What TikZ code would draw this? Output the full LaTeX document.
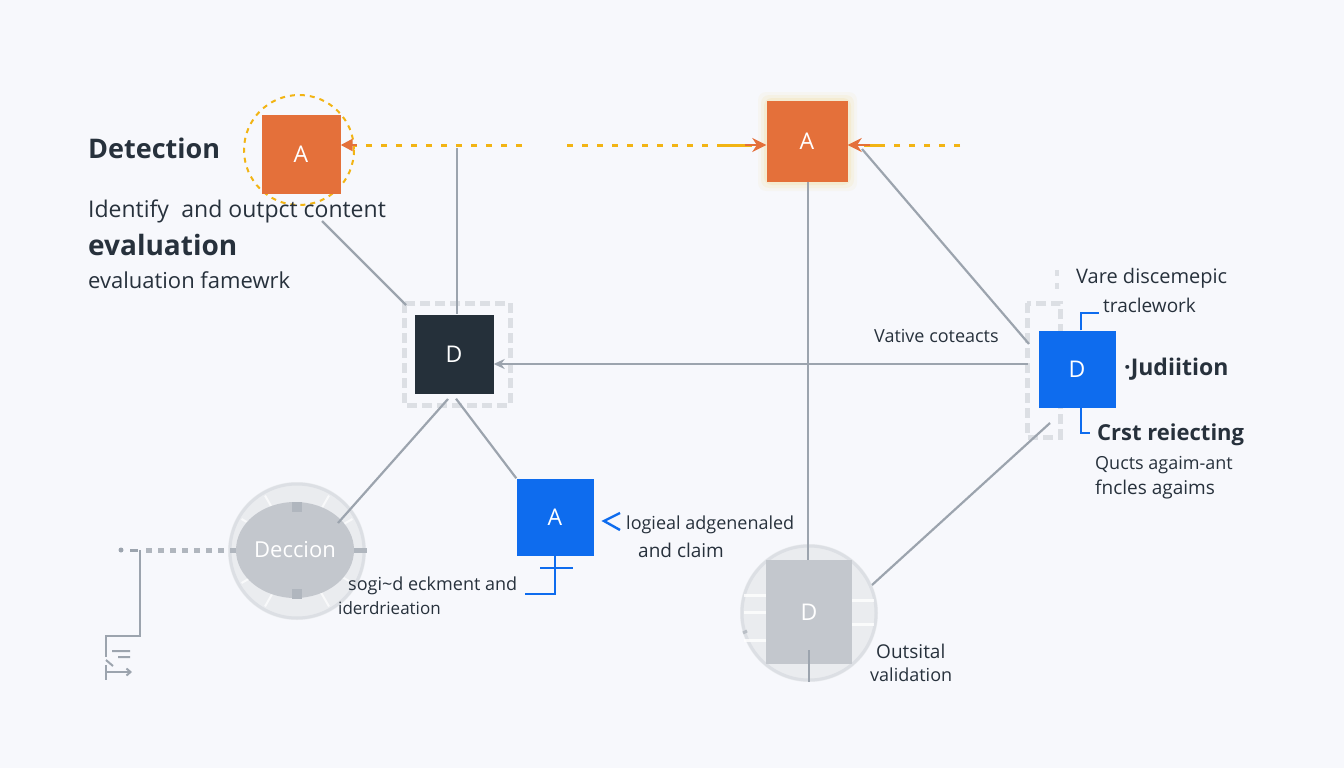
\documentclass[tikz,border=0pt]{standalone}
\usepackage{fontspec}
\setmainfont{Open Sans}
\usetikzlibrary{arrows.meta,calc,shapes.geometric}
\definecolor{bg}{HTML}{F7F8FC}
\definecolor{orng}{HTML}{E4703A}
\definecolor{ylw}{HTML}{F2B414}
\definecolor{blu}{HTML}{0E6CEE}
\definecolor{dark}{HTML}{25303A}
\definecolor{lgray}{HTML}{9CA4AE}
\definecolor{txt}{HTML}{27313C}
\definecolor{ggray}{HTML}{C3C7CD}
\definecolor{fgray}{HTML}{DCDFE4}
\tikzset{
  sq/.style={minimum width=#1, minimum height=#1, inner sep=0pt, text=white, font=\fontsize{23}{26}\selectfont},
  conn/.style={draw=lgray, line width=2.2pt},
  dotline/.style={draw=ylw, line width=3pt, dash pattern=on 6pt off 9pt},
  lbl/.style={text=txt, anchor=west, inner sep=0pt, font=\fontsize{18}{21}\selectfont},
  blbl/.style={text=txt, anchor=west, inner sep=0pt, font=\fontsize{27}{30}\selectfont\bfseries},
  frm/.style={draw=fgray, line width=5pt, dash pattern=on 10pt off 5pt},
  bline/.style={draw=blu, line width=2.4pt}
}
\begin{document}
\begin{tikzpicture}[x=1pt,y=-1pt]
\fill[bg] (0,0) rectangle (1344,768);
\useasboundingbox (0,0) rectangle (1344,768);

% ---------- top left: A1 ----------
\draw[ylw, line width=2pt, dash pattern=on 5pt off 5pt] (299,150) circle (55);
\node[sq=79, fill=orng] (A1) at (301,154) {A};
\coordinate (y1) at (522,145);
\draw[dotline] (y1) -- ($(A1.east |- y1)+(14,0)$);
\draw[orng, line width=2.4pt, -{Triangle[length=12pt,width=12pt]}] ($(A1.east |- y1)+(16,0)$) -- (A1.east |- y1);

% ---------- A2 ----------
\foreach \g/\o in {9/0.04,6/0.06,3/0.09}{
  \fill[ylw, opacity=\o, rounded corners=8pt] (767-\g,101-\g) rectangle (848+\g,182+\g);
}
\node[sq=81, fill=orng] (A2) at (807,141) {A};
\coordinate (y2) at (567,145);
\coordinate (y3) at (960,145);
\draw[dotline] (y2) -- (722,145);
\draw[ylw, line width=3pt] (722,145) -- (752,145);
\draw[orng, line width=2.4pt, -{Stealth[length=14pt,width=14pt]}] (745,145) -- (A2.west |- y2);
\draw[dotline] (y3) -- (880,145);
\draw[ylw, line width=3pt] (880,145) -- (864,145);
\draw[orng, line width=2.4pt, -{Stealth[length=14pt,width=14pt]}] (870,145) -- (A2.east |- y3);

% ---------- D1 ----------
\draw[frm] (404,303) rectangle (510,405);
\node[sq=79, fill=dark] (D1) at (454,354) {D};
\coordinate (v1) at (457,148);
\draw[conn] (v1) -- (D1.north -| v1);
\coordinate (c1) at (322,221);
\draw[conn] (c1) -- (406,305);

% ---------- D3 ----------
\draw[frm] (1027,303) rectangle (1060,437);
\draw[fgray, line width=4pt] (1057,270) -- (1057,276) (1057,283) -- (1057,289);
\node[sq=77, fill=blu] (D3) at (1077,369) {D};
\draw[bline] (D3.north -| 1081,0) -- (1081,313) -- (1099,313);
\draw[bline] (D3.south -| 1081,0) -- (1081,433) -- (1090,433);

% ---------- connectors ----------
\coordinate (h1) at (1028,364);
\draw[conn, -{Stealth[length=11pt,width=10pt]}] (h1) -- (D1.east |- h1);
\coordinate (r1) at (862,149);
\draw[conn] (r1) -- (1029,344);

% ---------- Deccion ----------
\fill[fgray!60] (297,551) circle (69);
\draw[fgray, line width=3pt] (297,551) circle (67);
\foreach \a in {-60,-30,0,30,60,120,150,180,210,240}{
  \draw[white, line width=2pt, opacity=0.7] ($(297,551)+(\a:48)$) -- ($(297,551)+(\a:64)$);
}
\node[ellipse, fill=ggray, minimum width=118pt, minimum height=96pt, inner sep=0pt, text=white, font=\fontsize{22}{25}\selectfont] (E) at (295,550) {Deccion};
\fill[lgray!80] (292,502) rectangle (302,512);
\fill[lgray!80] (292,589) rectangle (302,599);
\draw[lgray!80, line width=5pt] (E.east) -- ++(13,0);
\coordinate (l0) at (121,550);
\fill[lgray] (l0) circle (2.5);
\draw[lgray, line width=3pt] (130,550) -- (138,550);
\draw[lgray!80, line width=5pt, dash pattern=on 6pt off 6pt] (146,550) -- (E.west);
\draw[lgray, line width=2.4pt] (140,550) -- (140,636) -- (106,636) -- (106,657);
\draw[lgray, line width=2pt] (112,651) -- (130,651) (106,660) -- (113,666) (118,657) -- (130,657);
\draw[lgray, line width=2pt, -{Straight Barb[length=4pt,width=7pt]}] (106,672) -- (132,672);
\draw[lgray, line width=2pt] (106,665) -- (106,680);

% ---------- A3 ----------
\node[sq=77, fill=blu] (A3) at (555,517) {A};
\draw[bline] (A3.south) -- (555,594) -- (525,594);
\draw[bline] (540,568) -- (573,568);
\draw[blu, line width=2.4pt] (620,513) -- (604,521) -- (620,530);

\draw[conn] (448,399) -- (338,523);
\draw[conn] ($(D1.south)+(2,5)$) -- (A3.north west);

% ---------- gray D ----------
\fill[fgray!60] (809,613) circle (69);
\draw[fgray, line width=3pt] (809,613) circle (67);
\draw[white, line width=3pt, opacity=0.8] (744,595) -- (770,595) (744,612) -- (770,612) (848,624) -- (874,624) (744,640) -- (770,640) (848,600) -- (874,600);
\node[minimum width=86pt, minimum height=104pt, inner sep=0pt, fill=ggray, text=white, font=\fontsize{23}{26}\selectfont] (DG) at (809,612) {D};
\draw[conn] (A2.south -| 808,0) -- (DG.north -| 808,0);
\draw[conn] (1050,423) -- (872,585);
\draw[lgray, line width=2pt] (809,650) -- (809,682);
\draw[lgray!70, line width=3pt] (743,633) -- (747,631);

% ---------- texts ----------
\node[blbl] (t1) at (88,148) {Detection};
\node[lbl, font=\fontsize{23}{26}\selectfont] (t2) at (88,211) {Identify\; and outpct content};
\node[blbl, font=\fontsize{28}{31}\selectfont\bfseries] (t3) at (88,245) {evaluation};
\node[lbl, font=\fontsize{22}{25}\selectfont] (t4) at (88,280) {evaluation famewrk};

\node[lbl, font=\fontsize{20}{23}\selectfont] (t5) at (1076,278) {Vare discemepic};
\node[lbl, font=\fontsize{19}{22}\selectfont] (t6) at (1103,305) {traclework};
\node[lbl] (t7) at (874,336) {Vative coteacts};
\node[lbl, font=\fontsize{23}{26}\selectfont\bfseries] (t8) at (1124,369) {·Judiition};
\node[lbl, font=\fontsize{22}{25}\selectfont\bfseries] (t9) at (1097,435) {Crst reiecting};
\node[lbl] (t10) at (1095,465) {Qucts agaim-ant};
\node[lbl, font=\fontsize{19}{22}\selectfont] (t11) at (1095,490) {fncles agaims};

\node[lbl] (t12) at (348,586) {sogi\textasciitilde d eckment and};
\node[lbl, font=\fontsize{17}{20}\selectfont] (t13) at (338,608) {iderdrieation};
\node[lbl] (t14) at (626,525) {logieal adgenenaled};
\node[lbl, font=\fontsize{19}{22}\selectfont] (t15) at (638,550) {and claim};
\node[lbl, font=\fontsize{19}{22}\selectfont] (t16) at (876,651) {Outsital};
\node[lbl, font=\fontsize{18}{21}\selectfont] (t17) at (870,675) {validation};
\end{tikzpicture}
\end{document}
